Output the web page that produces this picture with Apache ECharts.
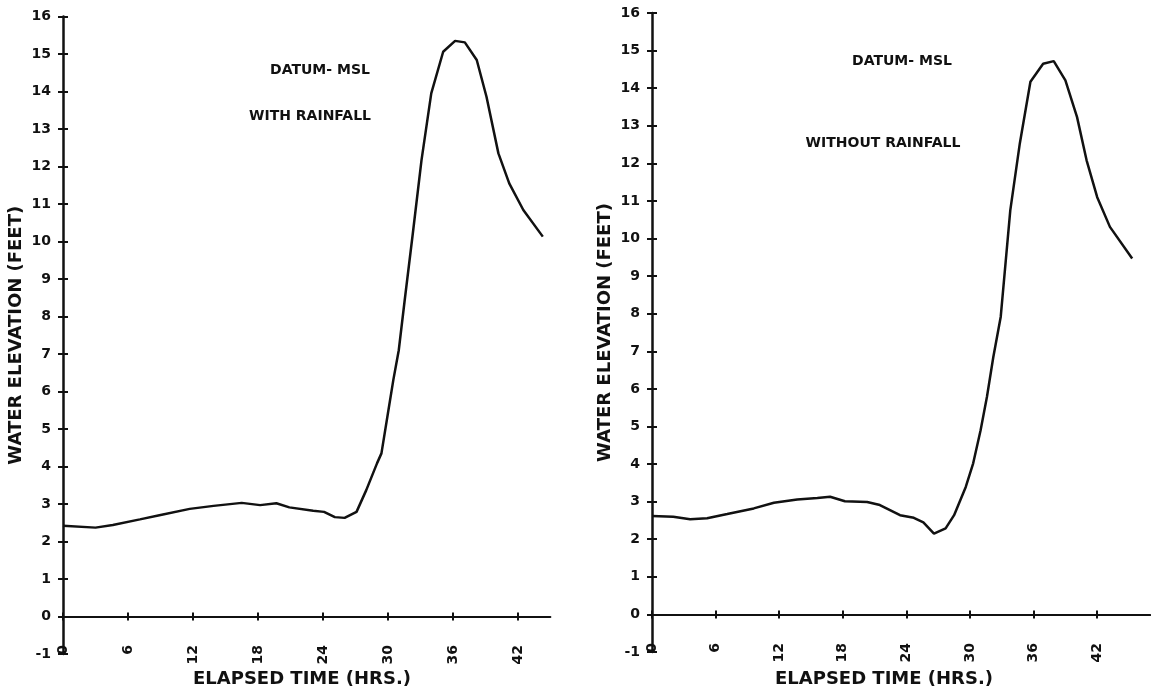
<!DOCTYPE html>
<html>
<head>
<meta charset="utf-8">
<title>Water Elevation - Elapsed Time</title>
<script src="https://cdn.jsdelivr.net/npm/echarts@6/dist/echarts.min.js"></script>
<style>
  html, body { margin: 0; padding: 0; background: #ffffff; }
  #chart { width: 1151px; height: 691px; }
</style>
</head>
<body>
<div id="chart"></div>
<script>
// Hydrograph with rainfall: elapsed hours and water elevation (ft, datum MSL)
const rainHours  = [0, 3.0, 4.6, 7.1, 8.9, 11.7, 13.9, 16.5, 18.2, 19.7, 20.9, 23.1, 24.1, 25.1, 26.0, 27.1, 28.0, 29.0, 29.4, 30.0, 30.5, 31.0, 31.55, 32.3, 33.1, 34.0, 35.1, 36.2, 37.1, 38.2, 39.1, 40.2, 41.2, 42.5, 44.3];
const rainLevels = [2.42, 2.37, 2.44, 2.59, 2.70, 2.87, 2.95, 3.03, 2.97, 3.02, 2.91, 2.82, 2.79, 2.65, 2.63, 2.79, 3.37, 4.09, 4.35, 5.42, 6.31, 7.10, 8.44, 10.22, 12.17, 13.95, 15.06, 15.35, 15.31, 14.84, 13.86, 12.35, 11.55, 10.84, 10.13];

// Hydrograph without rainfall
const dryHours  = [0, 2.0, 3.6, 5.2, 7.1, 9.6, 11.5, 13.7, 15.6, 16.8, 18.2, 20.3, 21.5, 23.4, 24.7, 25.6, 26.6, 27.7, 28.5, 29.6, 30.3, 31.0, 31.6, 32.2, 32.9, 33.8, 34.7, 35.7, 36.9, 37.9, 39.0, 40.1, 41.0, 42.0, 43.2, 45.3];
const dryLevels = [2.62, 2.60, 2.53, 2.56, 2.67, 2.82, 2.97, 3.06, 3.10, 3.13, 3.01, 2.99, 2.91, 2.64, 2.57, 2.45, 2.15, 2.29, 2.64, 3.39, 4.02, 4.90, 5.79, 6.85, 7.92, 10.75, 12.53, 14.17, 14.65, 14.72, 14.21, 13.23, 12.08, 11.10, 10.31, 9.47];

// Axis ticks
const hourTicks = [0, 6, 12, 18, 24, 30, 36, 42];
const elevMin = -1;
const elevMax = 16;

// Annotation and axis title texts
const yTitle = 'WATER ELEVATION (FEET)';
const xTitle = 'ELAPSED TIME (HRS.)';
const datumText = 'DATUM- MSL';
const leftCaption = 'WITH RAINFALL';
const rightCaption = 'WITHOUT RAINFALL';

const INK = '#111111';
const FONT = "'DejaVu Sans', 'Liberation Sans', sans-serif";

function pairs(xs, ys) { return xs.map((x, i) => [x, ys[i]]); }

const grids = [
  { left: 63, top: 16.5, width: 487.4, height: 637.5 },
  { left: 652, top: 13, width: 498.2, height: 639 }
];
const xMax = [45, 47];

const xAxes = [];
const yAxes = [];
grids.forEach((g, gi) => {
  // axis line at elevation zero with downward ticks
  xAxes.push({
    type: 'value', gridIndex: gi, min: 0, max: xMax[gi],
    axisLine: { show: true, onZero: true, lineStyle: { color: INK, width: 2 } },
    axisTick: { show: true, length: 4, customValues: hourTicks, lineStyle: { color: INK, width: 2 } },
    axisLabel: { show: false }, splitLine: { show: false }
  });
  // upward half of the crossing ticks
  xAxes.push({
    type: 'value', gridIndex: gi, min: 0, max: xMax[gi], position: 'bottom',
    axisLine: { show: false, onZero: true },
    axisTick: { show: true, inside: true, length: 4, customValues: hourTicks, lineStyle: { color: INK, width: 2 } },
    axisLabel: { show: false }, splitLine: { show: false }
  });
  // rotated hour labels along the bottom edge
  xAxes.push({
    type: 'value', gridIndex: gi, min: 0, max: xMax[gi], position: 'bottom',
    axisLine: { show: false, onZero: false },
    axisTick: { show: false },
    axisLabel: {
      show: true, customValues: hourTicks, rotate: 90, margin: -9,
      color: INK, fontFamily: FONT, fontWeight: 'bold', fontSize: 14
    },
    splitLine: { show: false }
  });

  yAxes.push({
    type: 'value', gridIndex: gi, min: elevMin, max: elevMax, interval: 1,
    name: yTitle, nameLocation: 'middle', nameGap: 38,
    nameTextStyle: { color: INK, fontFamily: FONT, fontWeight: 'bold', fontSize: 18 },
    axisLine: { show: true, onZero: false, lineStyle: { color: INK, width: 2.5 } },
    axisTick: { show: true, length: 5, lineStyle: { color: INK, width: 2 } },
    axisLabel: { show: true, margin: 12, color: INK, fontFamily: FONT, fontWeight: 'bold', fontSize: 14 },
    splitLine: { show: false }
  });
  yAxes.push({
    type: 'value', gridIndex: gi, min: elevMin, max: elevMax, interval: 1, position: 'left',
    axisLine: { show: false, onZero: false },
    axisTick: { show: true, inside: true, length: 5, lineStyle: { color: INK, width: 2 } },
    axisLabel: { show: false }, splitLine: { show: false }
  });
});

const lineStyle = { color: INK, width: 2.5 };

function note(x, y, text, size) {
  return {
    type: 'text', x: x, y: y,
    style: {
      text: text, font: 'bold ' + size + 'px ' + FONT, fill: INK,
      align: 'center', verticalAlign: 'middle', textAlign: 'center', textVerticalAlign: 'middle'
    }
  };
}

const option = {
  backgroundColor: '#ffffff',
  animation: false,
  grid: grids,
  xAxis: xAxes,
  yAxis: yAxes,
  series: [
    {
      type: 'line', xAxisIndex: 0, yAxisIndex: 0,
      data: pairs(rainHours, rainLevels),
      showSymbol: false, smooth: false, lineStyle: lineStyle, itemStyle: { color: INK }
    },
    {
      type: 'line', xAxisIndex: 3, yAxisIndex: 2,
      data: pairs(dryHours, dryLevels),
      showSymbol: false, smooth: false, lineStyle: lineStyle, itemStyle: { color: INK }
    }
  ],
  graphic: [
    note(320, 70, datumText, 14),
    note(310, 116, leftCaption, 14),
    note(902, 61, datumText, 14),
    note(883, 143, rightCaption, 14),
    note(302, 679, xTitle, 18),
    note(884, 679, xTitle, 18)
  ]
};

const chart = echarts.init(document.getElementById('chart'), null, { renderer: 'canvas' });
chart.setOption(option);
</script>
</body>
</html>
